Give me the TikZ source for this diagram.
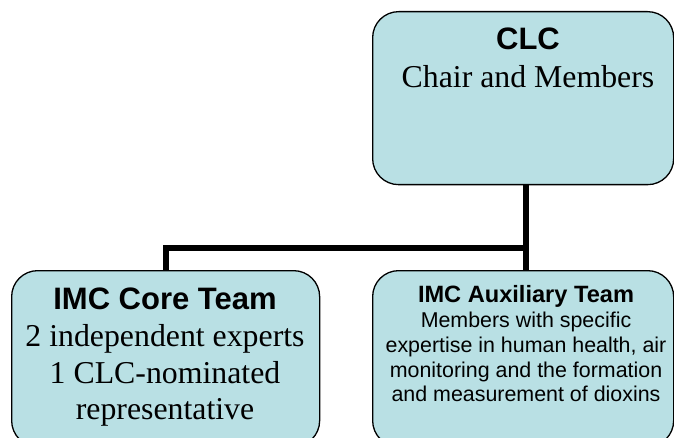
\documentclass[tikz,border=0pt]{standalone}
\usepackage{fontspec}
\setmainfont{Liberation Serif}
\newfontfamily\arialf{Liberation Sans}
\usetikzlibrary{backgrounds}
\definecolor{boxfill}{RGB}{185,224,228}
\begin{document}
\begin{tikzpicture}[x=1pt,y=1pt,
  box/.style={draw=black, line width=1.3pt, fill=boxfill, rounded corners=26pt, inner sep=0pt, anchor=north west},
  conn/.style={draw=black, line width=6pt},
  ttl/.style={anchor=base, inner sep=0pt, font=\arialf\bfseries\fontsize{31}{37}\selectfont},
  serif/.style={anchor=base, inner sep=0pt, font=\fontsize{31.8}{37}\selectfont},
  attl/.style={anchor=base, inner sep=0pt, font=\arialf\bfseries\fontsize{23.6}{25}\selectfont},
  abody/.style={anchor=base, inner sep=0pt, font=\arialf\fontsize{21.4}{25}\selectfont},
]
\useasboundingbox (0,0) rectangle (674,-438);
\clip (0,0) rectangle (674,-438);

\node[box, minimum width=301pt, minimum height=173pt] (clc) at (372,-11) {};
\node[box, minimum width=308pt, minimum height=176pt] (core) at (11,-270) {};
\node[box, minimum width=301pt, minimum height=176pt] (aux) at (372,-270) {};

\coordinate (jr) at (526,-248);
\coordinate (jl) at (166,-248);
\begin{scope}[on background layer]
  \draw[conn] (clc.south -| jr) -- (jr |- aux.north);
  \draw[conn] (jr) -- (jl) -- (jl |- core.north);
\end{scope}

\node[ttl] (clct) at (528,-50) {CLC};
\node[serif] (clcb) at (528,-88) {Chair and Members};

\node[ttl] (coret) at (165,-309) {IMC Core Team};
\node[serif] (core1) at (165,-346) {2 independent experts};
\node[serif] (core2) at (165,-383) {1 CLC-nominated};
\node[serif] (core3) at (165,-419) {representative};

\node[attl] (auxt) at (526,-302) {IMC Auxiliary Team};
\node[abody] (aux1) at (526,-327) {Members with specific};
\node[abody] (aux2) at (526,-352) {expertise in human health, air};
\node[abody] (aux3) at (526,-377) {monitoring and the formation};
\node[abody] (aux4) at (526,-401) {and measurement of dioxins};
\end{tikzpicture}
\end{document}
